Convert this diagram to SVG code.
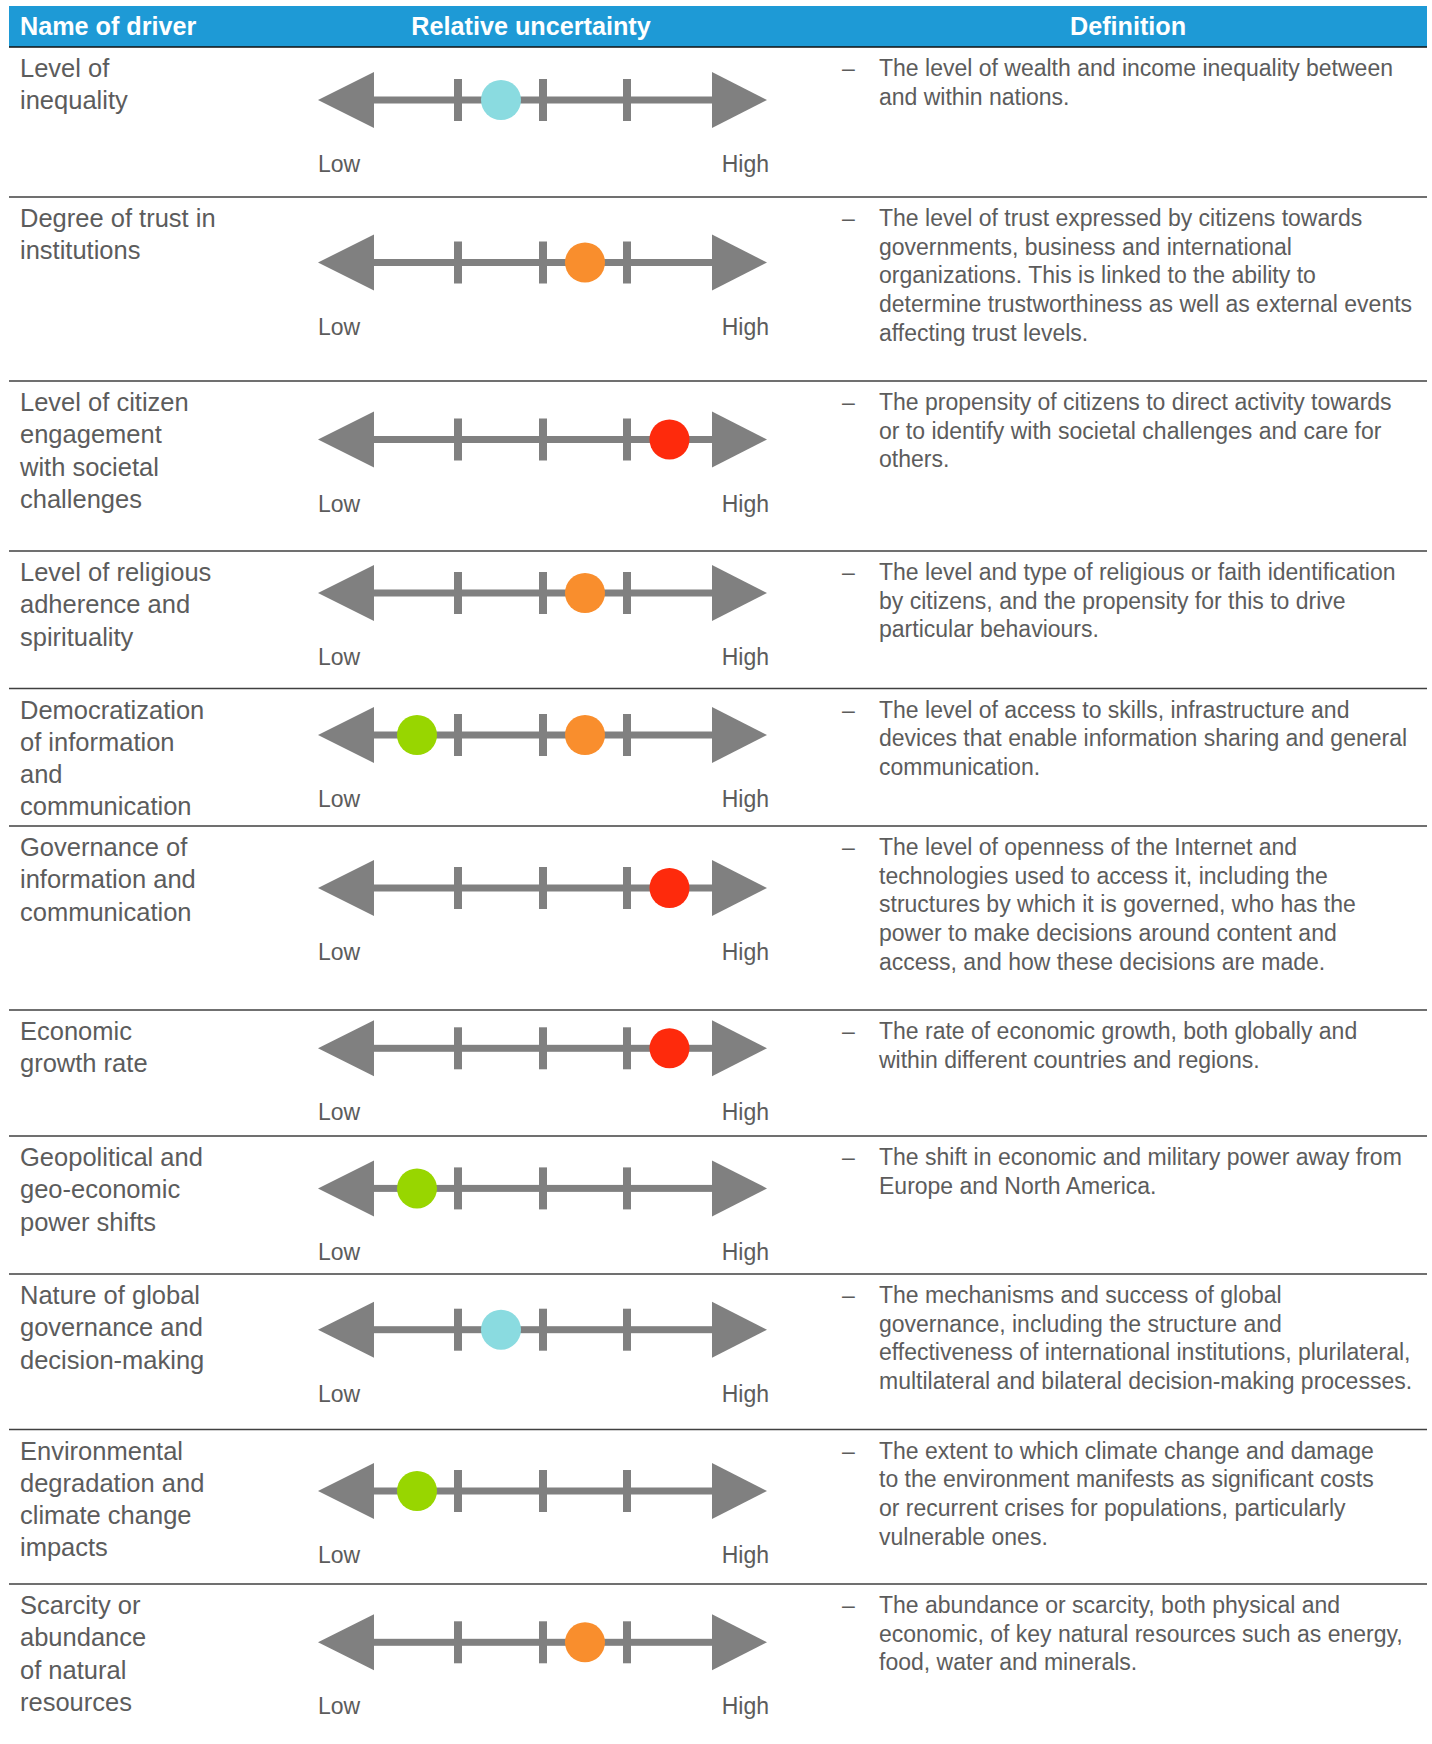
<svg xmlns="http://www.w3.org/2000/svg" xmlns:xlink="http://www.w3.org/1999/xlink" width="1432" height="1744" viewBox="0 0 1432 1744">
<style>
.hd{font-family:"Liberation Sans",Arial,sans-serif;font-size:25.2px;font-weight:bold;fill:#ffffff}
.nm{font-family:"Liberation Sans",Arial,sans-serif;font-size:25.5px;fill:#5c5c5c}
.df{font-family:"Liberation Sans",Arial,sans-serif;font-size:23px;fill:#5c5c5c}
.lh{font-family:"Liberation Sans",Arial,sans-serif;font-size:23px;fill:#5c5c5c}
.ax{fill:#808080}
.sep{stroke:#404040;stroke-width:1.6}
.cy{fill:#8adbe0}.or{fill:#f98e2d}.rd{fill:#fe2a0c}.gr{fill:#98d600}
</style>
<defs>
<g id="axis">
<polygon class="ax" points="318,0 374,-28 374,28"/>
<rect class="ax" x="374" y="-3.5" width="338" height="7"/>
<rect class="ax" x="454" y="-21" width="8" height="42"/>
<rect class="ax" x="539" y="-21" width="8" height="42"/>
<rect class="ax" x="623" y="-21" width="8" height="42"/>
<polygon class="ax" points="767,0 712,-28 712,28"/>
<text class="lh" x="318" y="72">Low</text>
<text class="lh" x="769" y="72" text-anchor="end">High</text>
</g>
</defs>
<rect width="1432" height="1744" fill="#ffffff"/>
<g id="header">
<rect x="9" y="6" width="1418" height="41" fill="#1e9ad6"/>
<text class="hd" x="20" y="35">Name of driver</text>
<text class="hd" x="531" y="35" text-anchor="middle">Relative uncertainty</text>
<text class="hd" x="1128" y="35" text-anchor="middle">Definition</text>
</g>
<g id="connectors">
<line x1="9" y1="47" x2="1427" y2="47" stroke="#111" stroke-width="1.6"/>
<line class="sep" x1="9" y1="197" x2="1427" y2="197"/>
<line class="sep" x1="9" y1="381" x2="1427" y2="381"/>
<line class="sep" x1="9" y1="551" x2="1427" y2="551"/>
<line class="sep" x1="9" y1="688.5" x2="1427" y2="688.5"/>
<line class="sep" x1="9" y1="826" x2="1427" y2="826"/>
<line class="sep" x1="9" y1="1010" x2="1427" y2="1010"/>
<line class="sep" x1="9" y1="1136" x2="1427" y2="1136"/>
<line class="sep" x1="9" y1="1274" x2="1427" y2="1274"/>
<line class="sep" x1="9" y1="1429.5" x2="1427" y2="1429.5"/>
<line class="sep" x1="9" y1="1584" x2="1427" y2="1584"/>
</g>

<g id="row1">
<text class="nm" x="20" y="77"><tspan x="20">Level of</tspan><tspan x="20" dy="32.3">inequality</tspan></text>
<use href="#axis" xlink:href="#axis" transform="translate(0,100)"/>
<circle class="cy" cx="501" cy="100" r="20"/>
<text class="df" x="842" y="76">–</text>
<text class="df" y="76"><tspan x="879">The level of wealth and income inequality between</tspan><tspan x="879" dy="28.7">and within nations.</tspan></text>
</g>

<g id="row2">
<text class="nm" y="227"><tspan x="20">Degree of trust in</tspan><tspan x="20" dy="32.3">institutions</tspan></text>
<use href="#axis" xlink:href="#axis" transform="translate(0,262.5)"/>
<circle class="or" cx="585" cy="262.5" r="20"/>
<text class="df" x="842" y="226">–</text>
<text class="df" y="226"><tspan x="879">The level of trust expressed by citizens towards</tspan><tspan x="879" dy="28.7">governments, business and international</tspan><tspan x="879" dy="28.7">organizations. This is linked to the ability to</tspan><tspan x="879" dy="28.7">determine trustworthiness as well as external events</tspan><tspan x="879" dy="28.7">affecting trust levels.</tspan></text>
</g>

<g id="row3">
<text class="nm" y="411"><tspan x="20">Level of citizen</tspan><tspan x="20" dy="32.3">engagement</tspan><tspan x="20" dy="32.3">with societal</tspan><tspan x="20" dy="32.3">challenges</tspan></text>
<use href="#axis" xlink:href="#axis" transform="translate(0,439.5)"/>
<circle class="rd" cx="669.5" cy="439.5" r="20"/>
<text class="df" x="842" y="410">–</text>
<text class="df" y="410"><tspan x="879">The propensity of citizens to direct activity towards</tspan><tspan x="879" dy="28.7">or to identify with societal challenges and care for</tspan><tspan x="879" dy="28.7">others.</tspan></text>
</g>

<g id="row4">
<text class="nm" y="581"><tspan x="20">Level of religious</tspan><tspan x="20" dy="32.3">adherence and</tspan><tspan x="20" dy="32.3">spirituality</tspan></text>
<use href="#axis" xlink:href="#axis" transform="translate(0,593)"/>
<circle class="or" cx="585" cy="593" r="20"/>
<text class="df" x="842" y="580">–</text>
<text class="df" y="580"><tspan x="879">The level and type of religious or faith identification</tspan><tspan x="879" dy="28.7">by citizens, and the propensity for this to drive</tspan><tspan x="879" dy="28.7">particular behaviours.</tspan></text>
</g>

<g id="row5">
<text class="nm" y="718.5"><tspan x="20">Democratization</tspan><tspan x="20" dy="32.3">of information</tspan><tspan x="20" dy="32.3">and</tspan><tspan x="20" dy="32.3">communication</tspan></text>
<use href="#axis" xlink:href="#axis" transform="translate(0,735)"/>
<circle class="gr" cx="417" cy="735" r="20"/>
<circle class="or" cx="585" cy="735" r="20"/>
<text class="df" x="842" y="717.5">–</text>
<text class="df" y="717.5"><tspan x="879">The level of access to skills, infrastructure and</tspan><tspan x="879" dy="28.7">devices that enable information sharing and general</tspan><tspan x="879" dy="28.7">communication.</tspan></text>
</g>

<g id="row6">
<text class="nm" y="856"><tspan x="20">Governance of</tspan><tspan x="20" dy="32.3">information and</tspan><tspan x="20" dy="32.3">communication</tspan></text>
<use href="#axis" xlink:href="#axis" transform="translate(0,888)"/>
<circle class="rd" cx="669.5" cy="888" r="20"/>
<text class="df" x="842" y="855">–</text>
<text class="df" y="855"><tspan x="879">The level of openness of the Internet and</tspan><tspan x="879" dy="28.7">technologies used to access it, including the</tspan><tspan x="879" dy="28.7">structures by which it is governed, who has the</tspan><tspan x="879" dy="28.7">power to make decisions around content and</tspan><tspan x="879" dy="28.7">access, and how these decisions are made.</tspan></text>
</g>

<g id="row7">
<text class="nm" y="1040"><tspan x="20">Economic</tspan><tspan x="20" dy="32.3">growth rate</tspan></text>
<use href="#axis" xlink:href="#axis" transform="translate(0,1048.3)"/>
<circle class="rd" cx="669.5" cy="1048.3" r="20"/>
<text class="df" x="842" y="1039">–</text>
<text class="df" y="1039"><tspan x="879">The rate of economic growth, both globally and</tspan><tspan x="879" dy="28.7">within different countries and regions.</tspan></text>
</g>

<g id="row8">
<text class="nm" y="1166"><tspan x="20">Geopolitical and</tspan><tspan x="20" dy="32.3">geo-economic</tspan><tspan x="20" dy="32.3">power shifts</tspan></text>
<use href="#axis" xlink:href="#axis" transform="translate(0,1188.4)"/>
<circle class="gr" cx="417" cy="1188.4" r="20"/>
<text class="df" x="842" y="1165">–</text>
<text class="df" y="1165"><tspan x="879">The shift in economic and military power away from</tspan><tspan x="879" dy="28.7">Europe and North America.</tspan></text>
</g>

<g id="row9">
<text class="nm" y="1304"><tspan x="20">Nature of global</tspan><tspan x="20" dy="32.3">governance and</tspan><tspan x="20" dy="32.3">decision-making</tspan></text>
<use href="#axis" xlink:href="#axis" transform="translate(0,1329.7)"/>
<circle class="cy" cx="501" cy="1329.7" r="20"/>
<text class="df" x="842" y="1303">–</text>
<text class="df" y="1303"><tspan x="879">The mechanisms and success of global</tspan><tspan x="879" dy="28.7">governance, including the structure and</tspan><tspan x="879" dy="28.7">effectiveness of international institutions, plurilateral,</tspan><tspan x="879" dy="28.7">multilateral and bilateral decision-making processes.</tspan></text>
</g>

<g id="row10">
<text class="nm" y="1459.5"><tspan x="20">Environmental</tspan><tspan x="20" dy="32.3">degradation and</tspan><tspan x="20" dy="32.3">climate change</tspan><tspan x="20" dy="32.3">impacts</tspan></text>
<use href="#axis" xlink:href="#axis" transform="translate(0,1491)"/>
<circle class="gr" cx="417" cy="1491" r="20"/>
<text class="df" x="842" y="1458.5">–</text>
<text class="df" y="1458.5"><tspan x="879">The extent to which climate change and damage</tspan><tspan x="879" dy="28.7">to the environment manifests as significant costs</tspan><tspan x="879" dy="28.7">or recurrent crises for populations, particularly</tspan><tspan x="879" dy="28.7">vulnerable ones.</tspan></text>
</g>

<g id="row11">
<text class="nm" y="1614"><tspan x="20">Scarcity or</tspan><tspan x="20" dy="32.3">abundance</tspan><tspan x="20" dy="32.3">of natural</tspan><tspan x="20" dy="32.3">resources</tspan></text>
<use href="#axis" xlink:href="#axis" transform="translate(0,1642.3)"/>
<circle class="or" cx="585" cy="1642.3" r="20"/>
<text class="df" x="842" y="1613">–</text>
<text class="df" y="1613"><tspan x="879">The abundance or scarcity, both physical and</tspan><tspan x="879" dy="28.7">economic, of key natural resources such as energy,</tspan><tspan x="879" dy="28.7">food, water and minerals.</tspan></text>
</g>
</svg>
